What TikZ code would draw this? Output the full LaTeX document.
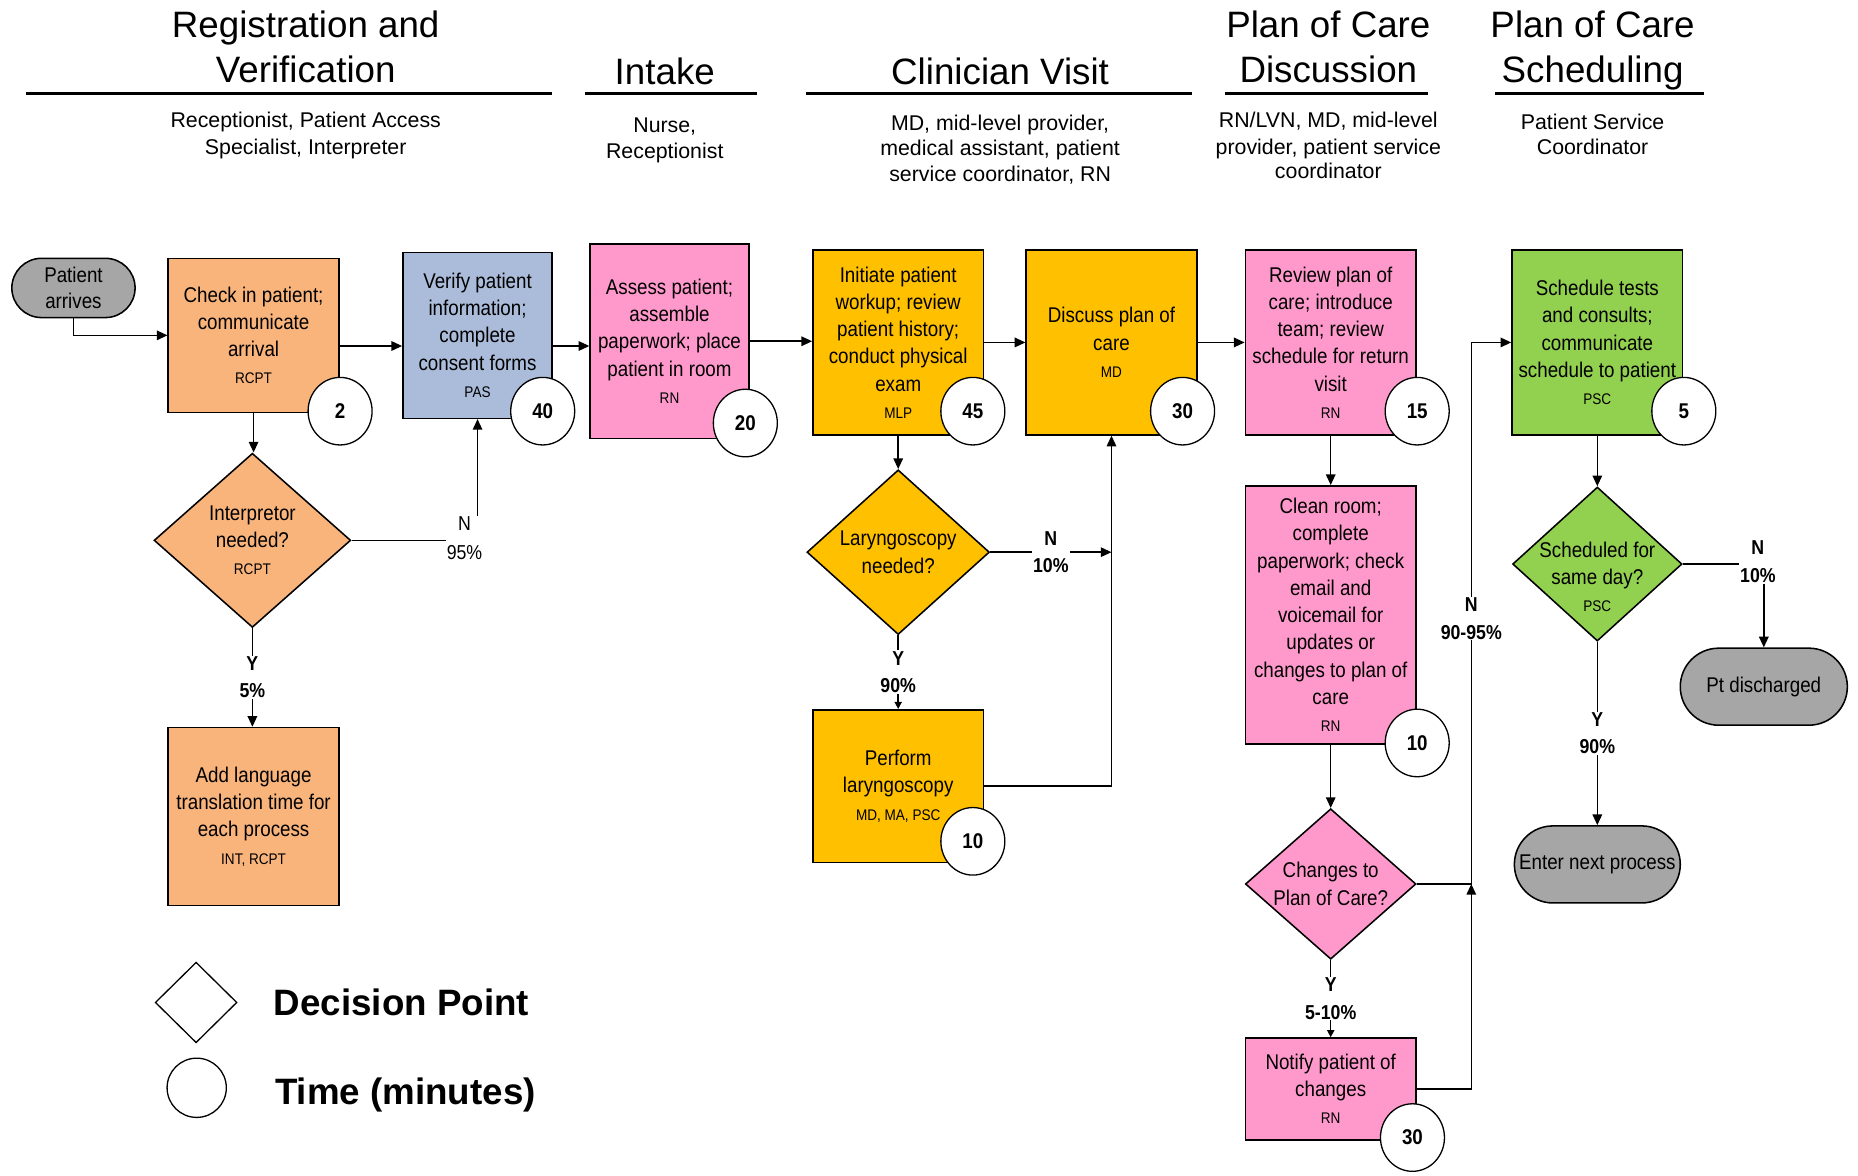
\documentclass[tikz,border=0pt]{standalone}
\usepackage{fontspec}
\setmainfont{Liberation Sans}
\newfontfamily\nf[FakeStretch=0.88]{Liberation Sans}
\usetikzlibrary{shapes.geometric,shapes.misc,arrows.meta,calc}
\definecolor{corange}{HTML}{F9B47C}
\definecolor{cblue}{HTML}{AABCD9}
\definecolor{cpink}{HTML}{FF99CC}
\definecolor{cgold}{HTML}{FFC000}
\definecolor{cgreen}{HTML}{92D050}
\definecolor{cgray}{HTML}{A6A6A6}
\newcommand{\rolet}[1]{{\fontsize{13}{23}\selectfont #1}}
\begin{document}
\begin{tikzpicture}[x=1pt,y=-1pt,
  proc/.style={draw=black, line width=1.3pt, rectangle, align=center, inner sep=2pt,
    font=\nf\fontsize{18}{23}\selectfont},
  dec/.style={draw=black, line width=1.3pt, diamond, inner sep=0pt, aspect=1},
  dtxt/.style={align=center, inner sep=0pt, font=\nf\fontsize{18}{23}\selectfont},
  term/.style={draw=black, line width=1.3pt, rounded rectangle, fill=cgray, align=center,
    inner sep=2pt, font=\nf\fontsize{18}{22}\selectfont},
  tm/.style={draw=black, line width=1.1pt, ellipse, fill=white, minimum width=54pt,
    minimum height=57pt, inner sep=0pt, font=\nf\bfseries\fontsize{18}{20}\selectfont},
  arr/.style={draw=black, line width=1.3pt, -{Triangle[length=9pt,width=8pt]}},
  sarr/.style={draw=black, line width=1.3pt, -{Triangle[length=6pt,width=6pt]}},
  lblb/.style={fill=white, align=center, inner sep=1pt, font=\nf\bfseries\fontsize{17}{23}\selectfont},
  lblr/.style={fill=white, align=center, inner sep=1pt, font=\nf\fontsize{17}{24}\selectfont},
  hd/.style={anchor=base, inner sep=0pt, font=\fontsize{31}{38}\selectfont},
  sub/.style={anchor=base, inner sep=0pt, font=\fontsize{18}{22}\selectfont},
  lg/.style={anchor=base west, inner sep=0pt, font=\bfseries\fontsize{31}{37}\selectfont},
  uline/.style={line width=3pt}
]
\useasboundingbox (0,0) rectangle (1568,992);

% ---------- headers ----------
\node[hd] (h1a) at (258,32) {Registration and};
\node[hd] (h1b) at (258,70) {Verification};
\node[hd] (h2) at (561,71) {Intake};
\node[hd] (h3) at (844,71) {Clinician Visit};
\node[hd] (h4a) at (1121,32) {Plan of Care};
\node[hd] (h4b) at (1121,70) {Discussion};
\node[hd] (h5a) at (1344,32) {Plan of Care};
\node[hd] (h5b) at (1344,70) {Scheduling};
\draw[uline] (22,79) -- (466,79);
\draw[uline] (494,79) -- (639,79);
\draw[uline] (680,79) -- (1006,79);
\draw[uline] (1034,79) -- (1205,79);
\draw[uline] (1262,79) -- (1438,79);
\node[sub] (s1a) at (258,108) {Receptionist, Patient Access};
\node[sub] (s1b) at (258,130) {Specialist, Interpreter};
\node[sub] (s2a) at (561,112) {Nurse,};
\node[sub] (s2b) at (561,134) {Receptionist};
\node[sub] (s3a) at (844,110) {MD, mid-level provider,};
\node[sub] (s3b) at (844,131.5) {medical assistant, patient};
\node[sub] (s3c) at (844,153) {service coordinator, RN};
\node[sub] (s4a) at (1121,108) {RN/LVN, MD, mid-level};
\node[sub] (s4b) at (1121,130) {provider, patient service};
\node[sub] (s4c) at (1121,151) {coordinator};
\node[sub] (s5a) at (1344,109) {Patient Service};
\node[sub] (s5b) at (1344,130) {Coordinator};

% ---------- nodes ----------
\node[term, minimum width=108pt, minimum height=50pt] (pa) at (62,243) {Patient\\arrives};
\node[proc, fill=corange, minimum width=144pt, minimum height=130pt] (chk) at (214,283)
  {Check in patient;\\communicate\\arrival\\\rolet{RCPT}};
\node[proc, fill=cblue, minimum width=126pt, minimum height=140pt] (ver) at (403,283)
  {Verify patient\\information;\\complete\\consent forms\\\rolet{PAS}};
\node[proc, fill=cpink, minimum width=134pt, minimum height=164pt] (ass) at (565,288)
  {Assess patient;\\assemble\\paperwork; place\\patient in room\\\rolet{RN}};
\node[proc, fill=cgold, minimum width=144pt, minimum height=156pt] (ini) at (758,289)
  {Initiate patient\\workup; review\\patient history;\\conduct physical\\exam\\\rolet{MLP}};
\node[proc, fill=cgold, minimum width=144pt, minimum height=156pt] (dis) at (938,289)
  {Discuss plan of\\care\\\rolet{MD}};
\node[proc, fill=cpink, minimum width=144pt, minimum height=156pt] (rev) at (1123,289)
  {Review plan of\\care; introduce\\team; review\\schedule for return\\visit\\\rolet{RN}};
\node[proc, fill=cgreen, minimum width=144pt, minimum height=156pt] (sch) at (1348,289)
  {Schedule tests\\and consults;\\communicate\\schedule to patient\\\rolet{PSC}};

\node[dec, fill=corange, minimum width=166pt, minimum height=147pt,
  label={[dtxt]center:{Interpretor\\needed?\\\rolet{RCPT}}}] (int) at (213,456) {};
\node[proc, fill=corange, minimum width=144pt, minimum height=150pt] (add) at (214,689)
  {Add language\\translation time for\\each process\\\rolet{INT, RCPT}};

\node[dec, fill=cgold, minimum width=154pt, minimum height=139pt,
  label={[dtxt]center:{Laryngoscopy\\needed?}}] (lar) at (758,466) {};
\node[proc, fill=cgold, minimum width=144pt, minimum height=129pt] (per) at (758,663.5)
  {Perform\\laryngoscopy\\\rolet{MD, MA, PSC}};

\node[proc, fill=cpink, minimum width=144pt, minimum height=218pt] (cln) at (1123,519)
  {Clean room;\\complete\\paperwork; check\\email and\\voicemail for\\updates or\\changes to plan of\\care\\\rolet{RN}};
\node[dec, fill=cpink, minimum width=144pt, minimum height=127pt,
  label={[dtxt]center:{Changes to\\Plan of Care?}}] (chg) at (1123,746) {};
\node[proc, fill=cpink, minimum width=144pt, minimum height=86pt] (ntf) at (1123,919)
  {Notify patient of\\changes\\\rolet{RN}};

\node[dec, fill=cgreen, minimum width=143pt, minimum height=130pt,
  label={[dtxt,yshift=-11pt]center:{Scheduled for\\same day?\\\rolet{PSC}}}] (sdd) at (1348,476) {};
\node[term, minimum width=145pt, minimum height=65pt] (pd) at (1488.5,579.5) {Pt discharged};
\node[term, minimum width=144pt, minimum height=65pt] (en) at (1348,729.5) {Enter next process};

% ---------- connectors ----------
\draw[arr] (pa.south) |- (chk.west);
\coordinate (c1) at ($(chk.east)+(0,9)$);
\draw[arr] (c1) -- (c1 -| ver.west);
\coordinate (c2) at ($(ver.east)+(0,9)$);
\draw[arr] (c2) -- (c2 -| ass.west);
\draw[arr] (ass.east) -- (ass.east -| ini.west);
\draw[arr] (ini.east) -- (dis.west);
\draw[arr] (dis.east) -- (rev.west);

\draw[arr] (chk.south) -- (chk.south |- int.north);
\draw[arr] (int.east) -- (int.east -| ver.south) node[lblr, xshift=-11pt, yshift=2pt] {N\\95\%} -- (ver.south);
\draw[arr] (int.south) -- node[lblb] {Y\\5\%} (int.south |- add.north);

\draw[arr] (ini.south) -- (lar.north);
\draw[arr] (lar.east) -- node[lblb] {N\\10\%} (lar.east -| dis.south);
\draw[sarr] (lar.south) -- node[lblb] {Y\\90\%} (per.north);
\draw[arr] (per.east) -| (dis.south);

\draw[arr] (rev.south) -- (cln.north);
\draw[arr] (cln.south) -- (chg.north);
\draw[sarr] (chg.south) -- node[lblb] {Y\\5-10\%} (ntf.north);
\coordinate (bus) at ($(chg.east)+(46,0)$);
\draw[arr] (chg.east) -- (bus) -- node[lblb, pos=0.49] {N\\90-95\%} (bus |- sch.west) -- (sch.west);
\draw[arr] (ntf.east) -| (bus);

\draw[arr] (sch.south) -- (sdd.north);
\draw[arr] (sdd.east) -- (sdd.east -| pd.north) node[lblb, xshift=-5pt, yshift=2pt] {N\\10\%} -- (pd.north);
\draw[arr] (sdd.south) -- node[lblb] {Y\\90\%} (en.north);

% ---------- time circles ----------
\node[tm] (t1) at (287,347) {2};
\node[tm] (t2) at (458,347) {40};
\node[tm] (t3) at (629,357) {20};
\node[tm] (t4) at (821,347) {45};
\node[tm] (t5) at (998,347) {30};
\node[tm] (t6) at (1196,347) {15};
\node[tm] (t7) at (1421,347) {5};
\node[tm] (t8) at (821,710) {10};
\node[tm] (t9) at (1196,627) {10};
\node[tm] (t10) at (1192,960) {30};

% ---------- legend ----------
\node[draw=black, line width=1.1pt, diamond, fill=white, minimum width=69pt, minimum height=68pt, inner sep=0pt] (ld) at (165.5,846) {};
\node[lg] (ldt) at (231,857) {Decision Point};
\node[draw=black, line width=1.1pt, circle, fill=white, minimum size=50pt, inner sep=0pt] (lc) at (166,918) {};
\node[lg] (lct) at (232,932) {Time (minutes)};
\end{tikzpicture}
\end{document}
